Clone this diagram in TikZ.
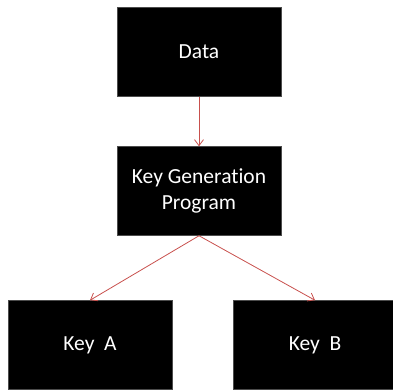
\documentclass[tikz,border=0pt]{standalone}
\usepackage{fontspec}
\setmainfont[Ligatures={NoCommon,NoRare}]{Carlito}
\usetikzlibrary{arrows.meta}
\definecolor{arrowred}{RGB}{200,80,77}
\tikzset{
  blockbox/.style={draw=black!70, line width=0.5pt, fill=black, text=white, minimum width=164pt, minimum height=89pt, inner sep=0pt, align=center, font=\fontsize{21.5}{26}\selectfont},
  link/.style={draw=arrowred, line width=0.8pt, -{Straight Barb[length=6pt,width=9pt]}}
}
\begin{document}
\begin{tikzpicture}[x=1pt,y=-1pt]
\useasboundingbox (0,0) rectangle (393,389);
\node[blockbox] (data) at (199,52) {Data};
\node[blockbox] (kgp) at (199,191) {Key Generation\\Program};
\node[blockbox] (keya) at (90,345) {Key\ \ A};
\node[blockbox] (keyb) at (315,345) {Key\ \ B};
\draw[link] (data.south) -- (kgp.north);
\draw[link] (kgp.south) -- (keya.north);
\draw[link] (kgp.south) -- (keyb.north);
\end{tikzpicture}
\end{document}
